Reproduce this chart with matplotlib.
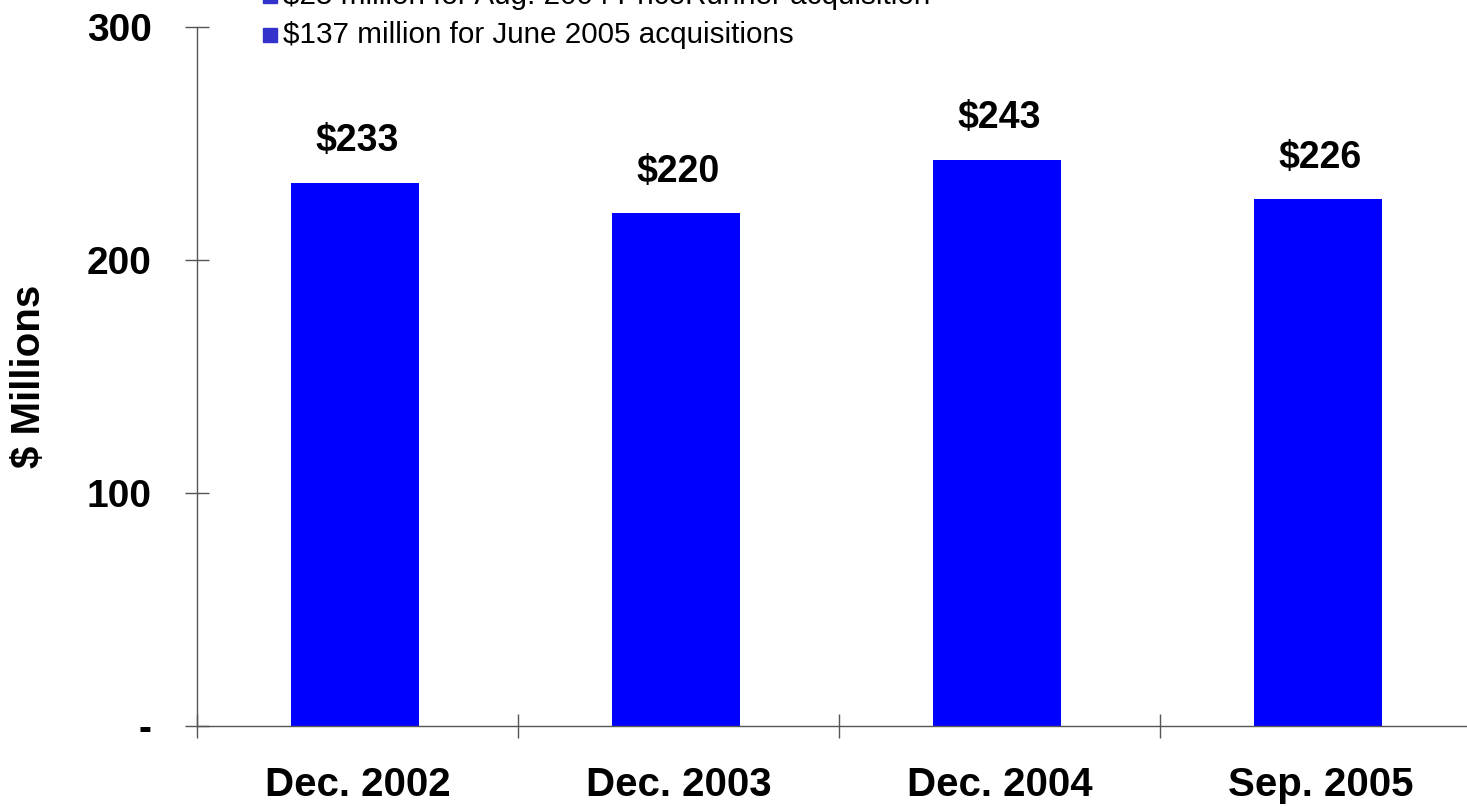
import matplotlib.pyplot as plt
from matplotlib.lines import Line2D

plt.rcParams['font.family'] = ['Liberation Sans', 'DejaVu Sans']

# data
periods = ['Dec. 2002', 'Dec. 2003', 'Dec. 2004', 'Sep. 2005']
values = [233, 220, 243, 226]
ytick_vals = [0, 100, 200, 300]
ytick_labels = ['-', '100', '200', '300']
notes = ['\\$25 million for Aug. 2004 PriceRunner acquisition',
         '\\$137 million for June 2005 acquisitions']

W, H = 1467, 807
fig = plt.figure(figsize=(W / 100, H / 100), dpi=100)

# axes box runs past the right edge of the figure
x0, y0 = 197, 726
cat_w = 321
ax = fig.add_axes([x0 / W, (H - y0) / H, 4 * cat_w / W, (y0 - 27) / H])

pos = [i + 0.5 for i in range(len(periods))]
ax.bar([p - 0.008 for p in pos], values, width=0.4, color='#0000FF', zorder=2)

for x, v in zip(pos, values):
    ax.annotate('\\$' + str(v), (x, v), xytext=(0, 17),
                textcoords='offset points', ha='center', va='bottom',
                fontsize=27, fontweight='bold')

ax.set_xlim(0, 4)
ax.set_ylim(0, 300)

for s in ['top', 'right']:
    ax.spines[s].set_visible(False)
for s in ['left', 'bottom']:
    ax.spines[s].set_color('#555555')
    ax.spines[s].set_linewidth(1)

ax.set_yticks(ytick_vals)
ax.set_yticklabels(ytick_labels, fontsize=28, fontweight='bold')
ax.tick_params(axis='y', direction='inout', length=17, width=1,
               color='#555555', pad=24)

ax.set_xticks([0, 1, 2, 3, 4])
ax.set_xticklabels([])
ax.tick_params(axis='x', which='major', direction='inout', length=17,
               width=1, color='#555555')
ax.set_xticks(pos, minor=True)
ax.set_xticklabels(periods, minor=True, fontsize=29, fontweight='bold')
ax.tick_params(axis='x', which='minor', length=0, pad=29)

ax.set_ylabel('\\$ Millions', fontsize=29, fontweight='bold')
ax.yaxis.set_label_coords(-0.116, 0.5)

# notes above the plot
for i, t in enumerate(notes):
    yc = (H - (-4 + 39 * i)) / H
    fig.add_artist(Line2D([270 / W], [yc], marker='s', markersize=10,
                          color='#3333CC', transform=fig.transFigure))
    fig.text(283 / W, yc, t, fontsize=21.3, va='center', ha='left')

fig.savefig('out.png', dpi=100)
